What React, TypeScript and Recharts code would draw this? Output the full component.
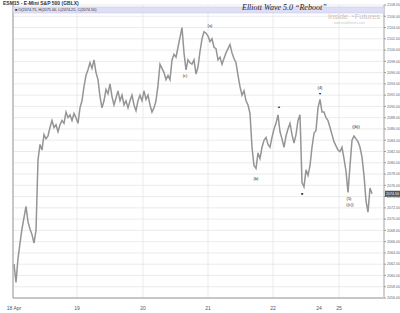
import { LineChart, Line, XAxis, YAxis, CartesianGrid, ReferenceDot } from 'recharts'

// ESM15 closes, one value per bar (bar index = position in the list)
const closes = [
  2062.0, 2058.75, 2063.0, 2065.75, 2068.25, 2070.25, 2072.25, 2069.5, 2068.25, 2067.25,
  2065.75, 2068.0, 2080.5, 2083.25, 2082.25, 2085.0, 2084.25, 2084.75, 2086.25, 2087.5,
  2086.25, 2086.75, 2085.5, 2086.75, 2087.5, 2087.0, 2089.0, 2088.0, 2088.5, 2087.5,
  2088.75, 2088.0, 2087.0, 2089.75, 2091.0, 2093.5, 2095.5, 2096.5, 2097.75, 2096.75,
  2098.25, 2096.0, 2094.75, 2091.75, 2089.75, 2091.0, 2093.0, 2092.25, 2094.0, 2091.75,
  2090.25, 2091.5, 2092.75, 2091.0, 2092.0, 2090.25, 2091.0, 2089.75, 2091.0, 2092.0,
  2090.25, 2089.25, 2091.0, 2092.0, 2091.0, 2092.75, 2091.25, 2092.0, 2090.25, 2089.0,
  2089.75, 2091.0, 2093.75, 2097.5, 2096.75, 2096.0, 2094.75, 2095.5, 2094.75, 2098.25,
  2099.25, 2098.75, 2100.5, 2102.25, 2104.0, 2099.5, 2096.5, 2098.25, 2097.75, 2097.5,
  2098.25, 2095.75, 2097.0, 2099.75, 2102.0, 2103.25, 2103.0, 2102.5, 2101.5, 2102.0,
  2100.5, 2100.25, 2098.25, 2098.75, 2097.5, 2098.5, 2099.5, 2100.25, 2101.0, 2099.5,
  2098.5, 2097.75, 2095.5, 2093.5, 2092.0, 2092.75, 2091.0, 2090.25, 2088.75, 2082.75,
  2079.5, 2079.0, 2081.75, 2080.75, 2082.75, 2084.0, 2084.5, 2083.25, 2082.75, 2084.5,
  2086.0, 2087.0, 2088.5, 2085.5, 2084.25, 2082.75, 2084.75, 2086.0, 2087.0, 2085.0,
  2083.5, 2085.0, 2087.5, 2088.5, 2076.5, 2075.75, 2078.75, 2077.75, 2079.5, 2082.75,
  2085.25, 2085.75, 2089.75, 2091.25, 2089.0, 2089.0, 2088.0, 2087.5, 2086.25, 2085.0,
  2083.75, 2083.0, 2082.25, 2082.0, 2082.75, 2080.75, 2078.5, 2074.75, 2079.5, 2084.0,
  2084.75, 2084.25, 2083.75, 2082.75, 2081.0, 2077.75, 2073.25, 2071.25, 2075.5, 2074.5,
]

const dayTicks = [0, 31.5, 64.5, 97, 129.5, 152.5, 162.5]
const dayLabels = ['18 Apr', '19', '20', '21', '22', '24', '25']

const priceTicks = [
  2056, 2058, 2060, 2062, 2064, 2066, 2068, 2070, 2072, 2074, 2076, 2078, 2080,
  2082, 2084, 2086, 2088, 2090, 2092, 2094, 2096, 2098, 2100, 2102, 2104, 2106, 2108,
]

// wave count labels: bar index, price, text
const waveLabels = [
  { i: 85.5, p: 2095.4, text: '(c)' },
  { i: 98, p: 2104.3, text: '(a)' },
  { i: 121, p: 2077.2, text: '(b)' },
  { i: 132.5, p: 2089.9, text: '▲' },
  { i: 144, p: 2074.5, text: '■' },
  { i: 153, p: 2093.2, text: '(4)' },
  { i: 153, p: 2092.2, text: '▼' },
  { i: 171, p: 2086.3, text: '((b))' },
  { i: 167.5, p: 2073.6, text: '(5)' },
  { i: 168, p: 2072.6, text: '((c))' },
]

const data = closes.map((c, i) => ({ i, c }))
const last = closes[closes.length - 1]

export default function App() {
  return (
    <div style={{ position: 'absolute', left: 0, top: 0, width: 400, height: 313, background: '#fff', fontFamily: '"Liberation Sans", Arial, sans-serif' }}>
      <LineChart width={400} height={313} data={data} margin={{ top: 5, right: 0, left: 0, bottom: 0 }}>
        <CartesianGrid yAxisId="r" stroke="#e6e6e6" strokeWidth={0.8} />
        <XAxis
          dataKey="i"
          type="number"
          domain={[-0.5, 185]}
          ticks={dayTicks}
          tickFormatter={(v) => dayLabels[dayTicks.indexOf(v)] ?? ''}
          tick={{ fontSize: 5, fill: '#555' }}
          tickLine={false}
          tickMargin={2}
          axisLine={{ stroke: '#999' }}
          height={15}
          allowDataOverflow
        />
        <YAxis yAxisId="l" domain={[2056, 2108]} width={13} tick={false} tickLine={false} axisLine={{ stroke: '#999' }} />
        <YAxis
          yAxisId="r"
          orientation="right"
          domain={[2056, 2108]}
          ticks={priceTicks}
          interval={0}
          width={16}
          tickSize={2}
          tickMargin={1}
          tickFormatter={(v) => v.toFixed(2)}
          tick={{ fontSize: 3.6, fill: '#666', textAnchor: 'start' }}
          tickLine={{ stroke: '#999' }}
          axisLine={{ stroke: '#d0d0d0', strokeWidth: 2 }}
        />
        <Line yAxisId="r" dataKey="c" stroke="#959595" strokeWidth={1.5} dot={false} isAnimationActive={false} />
        {waveLabels.map((w, k) => (
          <ReferenceDot
            key={k}
            yAxisId="r"
            x={w.i}
            y={w.p}
            ifOverflow="visible"
            shape={(props: any) => (
              <text x={props.cx} y={props.cy} textAnchor="middle" dominantBaseline="middle" fontSize={w.text.length === 1 ? 3.5 : 4} fill="#111">
                {w.text}
              </text>
            )}
          />
        ))}
        <ReferenceDot
          yAxisId="r"
          x={185}
          y={last}
          ifOverflow="visible"
          shape={(props: any) => (
            <g>
              <rect x={props.cx + 1} y={props.cy - 3} width={15} height={6} fill="#555" />
              <text x={props.cx + 2} y={props.cy} dominantBaseline="middle" fontSize={3.6} fill="#fff">
                {last.toFixed(2)}
              </text>
            </g>
          )}
        />
      </LineChart>
      <svg width={400} height={26} style={{ position: 'absolute', left: 0, top: 0 }}>
        <text x={3} y={5} fontSize={5} fontWeight="bold" fill="#333">ESM15 - E-Mini S&amp;P 500 (GBLX)</text>
        <rect x={13} y={7} width={371} height={6} fill="#dedef6" stroke="#c8c8ea" strokeWidth={0.6} />
        <text x={15} y={11.3} fontSize={3.8} fill="#333">■ O(2074.75, H(2075.00, L(2074.25, C(2074.50)</text>
        <text x={242} y={10} fontSize={8} fontStyle="italic" fontFamily='"Liberation Serif", serif' fill="#222">Elliott Wave 5.0 “Reboot”</text>
        <text x={328} y={19} fontSize={7.5} fill="#c4c4c4">Inside <tspan fill="#b8c8dc">◔</tspan>Futures</text>
        <text x={334} y={23.5} fontSize={3} fill="#c8c8c8">www.insidefutures.com</text>
      </svg>
    </div>
  )
}
